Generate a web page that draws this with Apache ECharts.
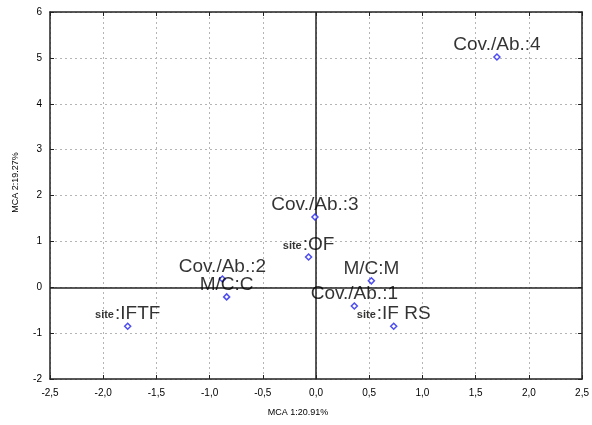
<!DOCTYPE html>
<html>
<head>
<meta charset="utf-8">
<script src="https://cdn.jsdelivr.net/npm/echarts@6/dist/echarts.min.js"></script>
<style>
  html, body { margin: 0; padding: 0; background: #fff; }
  #chart { width: 592px; height: 425px; }
</style>
</head>
<body>
<div id="chart"></div>
<script>
// points
const labels = ["Cov./Ab.:1", "Cov./Ab.:2", "Cov./Ab.:3", "Cov./Ab.:4", "M/C:C", "M/C:M", "site:IFTF", "site:IF RS", "site:OF"];
const xs = [0.36, -0.88, -0.01, 1.70, -0.84, 0.52, -1.77, 0.73, -0.07];
const ys = [-0.41, 0.18, 1.53, 5.02, -0.21, 0.14, -0.85, -0.85, 0.66];
const xName = "MCA 1:20.91%";
const yName = "MCA 2:19.27%";

const chart = echarts.init(document.getElementById("chart"));
const frame = { show: true, lineStyle: { color: "#222", width: 1.5 } };
const tickIn = { show: true, inside: true, length: 4, lineStyle: { color: "#222" } };
const dotted = { show: true, lineStyle: { color: "#b5b5b5", type: [2, 3], width: 1 } };
const txt = { fontFamily: "Liberation Sans, Arial", color: "#000" };

chart.setOption({
  animation: false,
  grid: { left: 50, right: 9, top: 12, bottom: 46, show: false },
  xAxis: [
    {
      type: "value", min: -2.5, max: 2.5, interval: 0.5,
      axisLine: { ...frame, onZero: false }, axisTick: tickIn, splitLine: dotted,
      axisLabel: { ...txt, fontSize: 10, margin: 9, formatter: v => v.toFixed(1).replace(".", ",") },
      name: xName, nameLocation: "middle", nameGap: 29,
      nameTextStyle: { ...txt, fontSize: 9, padding: [0, 36, 0, 0] }
    },
    {
      type: "value", position: "top", min: -2.5, max: 2.5, interval: 0.5,
      axisLine: { ...frame, onZero: false }, axisTick: tickIn, axisLabel: { show: false }, splitLine: { show: false }
    }
  ],
  yAxis: [
    {
      type: "value", min: -2, max: 6, interval: 1,
      axisLine: { ...frame, onZero: false }, axisTick: tickIn, splitLine: dotted,
      axisLabel: { ...txt, fontSize: 10, margin: 8 },
      name: yName, nameLocation: "middle", nameGap: 30, nameRotate: 90,
      nameTextStyle: { ...txt, fontSize: 9, padding: [0, 0, 0, 26] }
    },
    {
      type: "value", position: "right", min: -2, max: 6, interval: 1,
      axisLine: { ...frame, onZero: false }, axisTick: tickIn, axisLabel: { show: false }, splitLine: { show: false }
    }
  ],
  series: [{
    type: "scatter",
    symbol: "diamond",
    symbolSize: 6,
    itemStyle: { color: "#fff", borderColor: "#2020ee", borderWidth: 1.5 },
    data: xs.map((x, i) => ({ value: [x, ys[i]], name: labels[i] })),
    label: {
      show: true, position: "top", distance: -1,
      ...txt, fontSize: 19,
      formatter: p => p.name.replace("site:", "{s|site}:"),
      rich: { s: { ...txt, fontSize: 11, fontWeight: "bold", verticalAlign: "bottom", padding: [0, 1, 3, 0] } }
    },
    markLine: {
      silent: true,
      symbol: ["none", "arrow"], symbolSize: [0, 9],
      label: { show: false },
      lineStyle: { color: "#222", width: 1.5, type: "solid" },
      data: [{ xAxis: 0 }, { yAxis: 0 }]
    },
    z: 5
  }]
});
</script>
</body>
</html>
